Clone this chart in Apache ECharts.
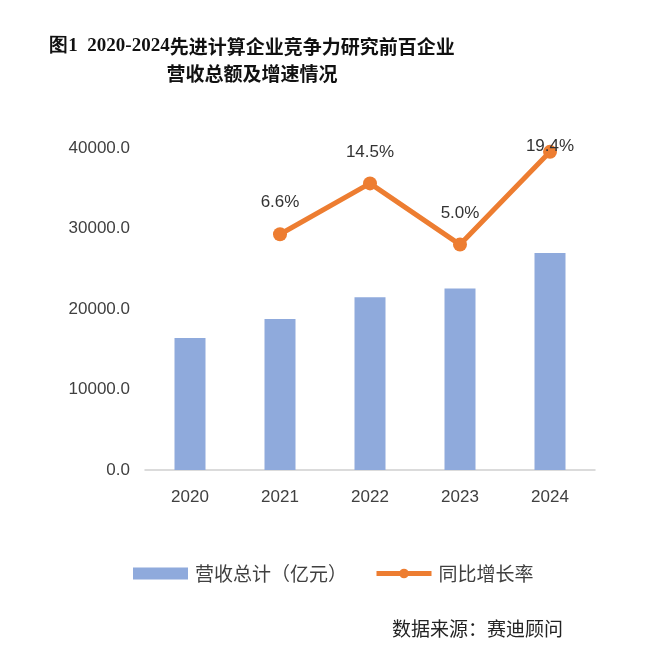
<!DOCTYPE html>
<html>
<head>
<meta charset="utf-8">
<script src="https://cdn.jsdelivr.net/npm/echarts@6/dist/echarts.min.js"></script>
<style>
  html, body { margin: 0; padding: 0; background: #fff; }
  #chart { width: 668px; height: 656px; }
</style>
</head>
<body>
<div id="chart"></div>
<script>
  const years = ['2020', '2021', '2022', '2023', '2024'];
  const revenue = [16400, 18750, 21450, 22550, 26950];
  const growth = [null, 6.6, 14.5, 5.0, 19.4];
  const yTicks = [0, 10000, 20000, 30000, 40000];

  const chart = echarts.init(document.getElementById('chart'));
  const sans = '"Liberation Sans", "Noto Sans CJK SC", sans-serif';
  const cjk = '"Noto Sans CJK SC", sans-serif';

  const titleStyle = {
    fontFamily: cjk,
    fontSize: 19,
    fontWeight: 'bold',
    color: '#111',
    rich: {
      s: {
        fontFamily: '"Liberation Serif", serif',
        fontSize: 19,
        fontWeight: 'bold',
        color: '#111'
      }
    }
  };

  // 最后一个点的标签压在点上
  const growthData = growth.map((v, i) => {
    if (i === growth.length - 1) {
      return { value: v, label: { position: 'inside', offset: [0, -6] } };
    }
    return v;
  });

  const option = {
    backgroundColor: '#fff',
    title: [
      {
        text: '{s|图1  2020-2024}先进计算企业竞争力研究前百企业',
        left: 247,
        top: 32,
        textAlign: 'center',
        textStyle: titleStyle
      },
      {
        text: '营收总额及增速情况',
        left: 247,
        top: 59,
        textAlign: 'center',
        textStyle: titleStyle
      }
    ],
    grid: { left: 145, right: 73, top: 148, bottom: 186 },
    legend: {
      top: 559,
      left: 128,
      itemGap: 27,
      itemWidth: 55,
      itemHeight: 12,
      textStyle: { fontFamily: cjk, fontSize: 19, color: '#404040', padding: [0, 0, 0, 2] },
      data: [
        { name: '营收总计（亿元）', icon: 'rect' },
        { name: '同比增长率', lineStyle: { width: 5 } }
      ]
    },
    graphic: [{
      type: 'text',
      left: 392,
      top: 619,
      style: {
        text: '数据来源：赛迪顾问',
        font: '19px "Noto Sans CJK SC", sans-serif',
        fill: '#222'
      }
    }],
    xAxis: {
      type: 'category',
      data: years,
      axisLine: { lineStyle: { color: '#cfcfcf', width: 1.5 } },
      axisTick: { show: false },
      axisLabel: { fontFamily: sans, fontSize: 17, color: '#404040', margin: 19 }
    },
    yAxis: [
      {
        type: 'value',
        min: yTicks[0],
        max: yTicks[yTicks.length - 1],
        interval: 10000,
        axisLine: { show: false },
        axisTick: { show: false },
        splitLine: { show: false },
        axisLabel: {
          fontFamily: sans, fontSize: 17, color: '#404040', margin: 15,
          formatter: v => v.toFixed(1)
        }
      },
      {
        type: 'value',
        min: -30,
        max: 20,
        show: false,
        splitLine: { show: false }
      }
    ],
    series: [
      {
        name: '营收总计（亿元）',
        type: 'bar',
        data: revenue,
        barWidth: 31,
        itemStyle: { color: '#8FAADC' }
      },
      {
        name: '同比增长率',
        type: 'line',
        yAxisIndex: 1,
        data: growthData,
        symbol: 'circle',
        symbolSize: 14,
        lineStyle: { color: '#ED7D31', width: 5 },
        itemStyle: { color: '#ED7D31' },
        label: {
          show: true,
          position: 'top',
          distance: 16,
          fontFamily: sans,
          fontSize: 17,
          color: '#333',
          formatter: p => p.value.toFixed(1) + '%'
        }
      }
    ]
  };

  chart.setOption(option);
</script>
</body>
</html>
